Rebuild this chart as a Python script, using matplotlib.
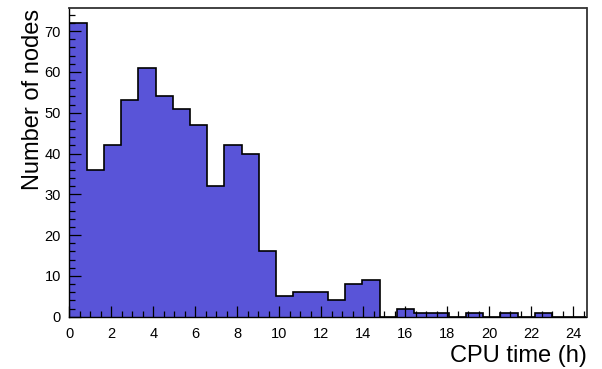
import numpy as np
import matplotlib
matplotlib.use("Agg")
import matplotlib.pyplot as plt
from matplotlib.ticker import MultipleLocator

# Histogram of per-node CPU time: 30 equal bins from 0 to the longest job
cpu_time_max = 24.63
n_bins = 30
node_counts = [72, 36, 42, 53, 61, 54, 51, 47, 32, 42,
               40, 16, 5, 6, 6, 4, 8, 9, 0, 2,
               1, 1, 0, 1, 0, 1, 0, 1, 0, 0]
x_ticks = list(range(0, 25, 2))
y_ticks = list(range(0, 80, 10))

plt.rcParams['font.family'] = ['Liberation Sans', 'DejaVu Sans']

edges = np.linspace(0, cpu_time_max, n_bins + 1)
counts = np.array(node_counts)

W, H = 602, 369
x0, x1, y0, y1 = 69.3, 586.5, 8.3, 316.7
fig = plt.figure(figsize=(W / 100, H / 100), dpi=100)
ax = fig.add_axes([x0 / W, (H - y1) / H, (x1 - x0) / W, (y1 - y0) / H])

ax.stairs(counts, edges, fill=True, color='#5954d8', linewidth=0)
ax.stairs(counts, edges, baseline=0, fill=False, color='black', linewidth=1.2)

ax.set_xlim(0, cpu_time_max)
ax.set_ylim(0, 1.05 * counts.max())

ax.set_xticks(x_ticks)
ax.set_yticks(y_ticks)
ax.xaxis.set_minor_locator(MultipleLocator(0.5))
ax.yaxis.set_minor_locator(MultipleLocator(2))
ax.tick_params(which='both', direction='in', top=False, right=False,
               labelsize=10.5, width=0.9, color='black')
ax.tick_params(axis='x', which='major', length=8, pad=7.5)
ax.tick_params(axis='x', which='minor', length=4)
ax.tick_params(axis='y', which='major', length=8.5, pad=6)
ax.tick_params(axis='y', which='minor', length=4.5)

for side in ('left', 'bottom'):
    ax.spines[side].set_linewidth(1.0)
    ax.spines[side].set_color('black')
for side in ('top', 'right'):
    ax.spines[side].set_linewidth(1.3)
    ax.spines[side].set_color('#333333')

# Axis titles, right-aligned to the ends of their axes
fig.text(x1 / W, 1 - 362 / H, 'CPU time (h)', fontsize=17,
         ha='right', va='baseline')
fig.text(39 / W, 1 - 9 / H, 'Number of nodes', fontsize=17, rotation=90,
         rotation_mode='anchor', ha='right', va='baseline')

fig.savefig('out.png', dpi=100)
